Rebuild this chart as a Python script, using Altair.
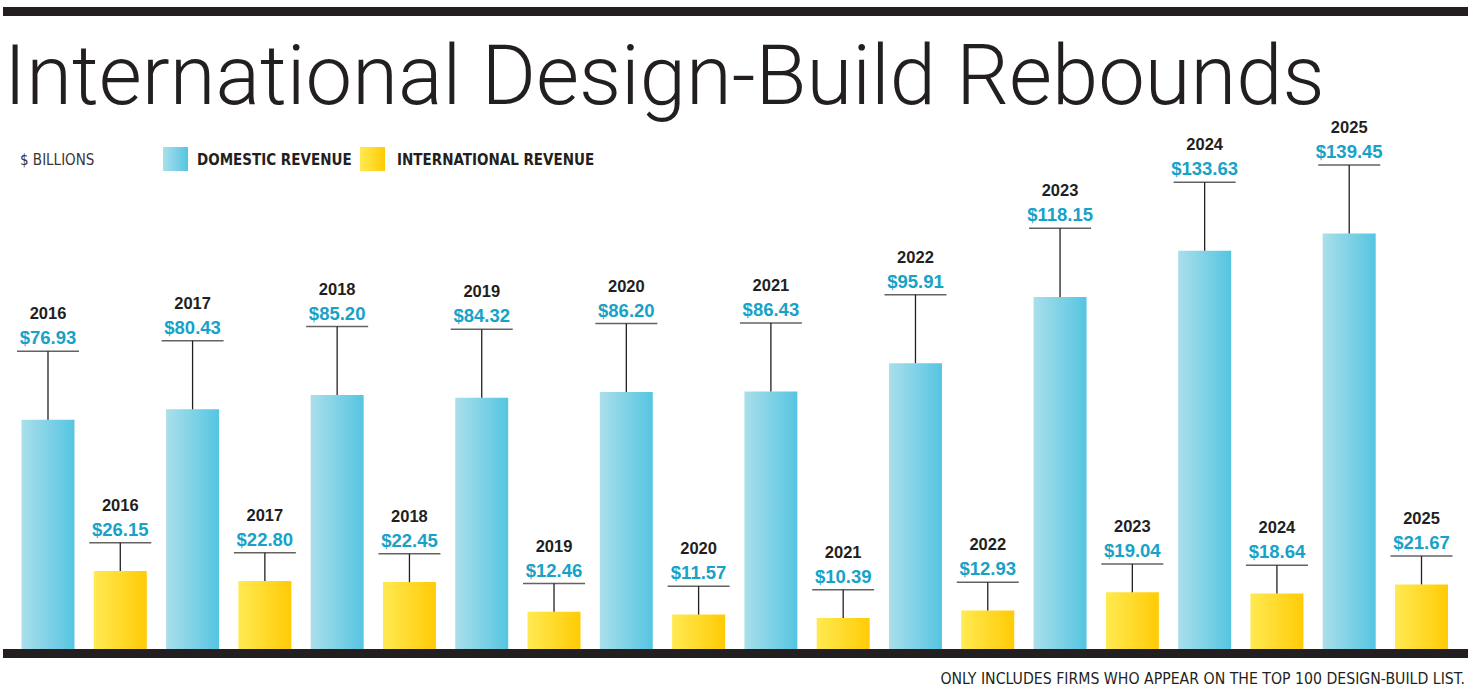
import altair as alt
import pandas as pd

# ---------------- data ----------------
years = [2016, 2017, 2018, 2019, 2020, 2021, 2022, 2023, 2024, 2025]
domestic = [76.93, 80.43, 85.20, 84.32, 86.20, 86.43, 95.91, 118.15, 133.63, 139.45]
international = [26.15, 22.80, 22.45, 12.46, 11.57, 10.39, 12.93, 19.04, 18.64, 21.67]
series_names = ["Domestic", "International"]

# ---------------- styling constants ----------------
COND = "DejaVu Sans Condensed, sans-serif"
LABELFONT = "Liberation Sans, Arial, sans-serif"
TITLEFONT = "Roboto, sans-serif"
DARK = "#231f20"
TEAL = "#17a2c8"
LEADER = {"Domestic": 23.0, "International": 9.5}  # label lift above bar, in $B

grad_dom = {"gradient": "linear", "x1": 0, "x2": 1, "y1": 0, "y2": 0,
            "stops": [{"offset": 0, "color": "#aadfeb"}, {"offset": 1, "color": "#55c5e1"}]}
grad_int = {"gradient": "linear", "x1": 0, "x2": 1, "y1": 0, "y2": 0,
            "stops": [{"offset": 0, "color": "#ffea52"}, {"offset": 1, "color": "#ffcb05"}]}

rows = []
for y, d, i in zip(years, domestic, international):
    for s, v in zip(series_names, (d, i)):
        rows.append({"slot": f"{y} {s}", "year": str(y), "series": s,
                     "value": v, "label": f"${v:.2f}"})
df = pd.DataFrame(rows)
df["level"] = df["value"] + df["series"].map(LEADER)
slot_order = list(df["slot"])

PX_PER_B = 2.98
BASE = 649
yscale = alt.Scale(domain=[0, BASE / PX_PER_B], range=[BASE, 0], nice=False, zero=False)
xenc = alt.X("slot:N", sort=slot_order,
             scale=alt.Scale(domain=slot_order, range=[21.5, 1448],
                             paddingInner=0.267, paddingOuter=0),
             axis=None)

base = alt.Chart(df)

bars_dom = base.transform_filter(alt.datum.series == "Domestic").mark_bar(
    fill=grad_dom, cornerRadius=0).encode(
    x=xenc, y=alt.Y("value:Q", scale=yscale, axis=None))
bars_int = base.transform_filter(alt.datum.series == "International").mark_bar(
    fill=grad_int, cornerRadius=0).encode(
    x=xenc, y=alt.Y("value:Q", scale=yscale, axis=None))

leaders = base.mark_rule(color=DARK, strokeWidth=1.3).encode(
    x=xenc, y=alt.Y("value:Q", scale=yscale, axis=None), y2="level:Q")
underline = base.mark_tick(orient="horizontal", color=DARK, thickness=1.5, size=62).encode(
    x=xenc, y=alt.Y("level:Q", scale=yscale, axis=None))
value_txt = base.mark_text(font=LABELFONT, fontWeight="bold", fontSize=18.5, color=TEAL,
                           baseline="alphabetic", align="center", dy=-7).encode(
    x=xenc, y=alt.Y("level:Q", scale=yscale, axis=None), text="label:N")
year_txt = base.mark_text(font=LABELFONT, fontWeight="bold", fontSize=16.5, color=DARK,
                          baseline="alphabetic", align="center", dy=-32).encode(
    x=xenc, y=alt.Y("level:Q", scale=yscale, axis=None), text="year:N")

one = pd.DataFrame({"k": [0]})
deco = alt.Chart(one)

top_bar = deco.mark_rect(color=DARK).encode(
    x=alt.value(3), x2=alt.value(1468), y=alt.value(7), y2=alt.value(16))
bottom_bar = deco.mark_rect(color=DARK).encode(
    x=alt.value(3), x2=alt.value(1468), y=alt.value(649), y2=alt.value(658))

title = deco.mark_text(text="International Design-Build Rebounds", font=TITLEFONT,
                       fontWeight=300, fontSize=83.2, align="left", baseline="alphabetic",
                       color=DARK).encode(
    x=alt.value(4), y=alt.value(104))

units = deco.mark_text(text="$ BILLIONS", font=COND, fontSize=15, align="left",
                       baseline="alphabetic", color="#3a3536").encode(
    x=alt.value(20), y=alt.value(165))
sq_dom = deco.mark_rect(fill=grad_dom).encode(
    x=alt.value(163), x2=alt.value(188), y=alt.value(147), y2=alt.value(171))
lg_dom = deco.mark_text(text="DOMESTIC REVENUE", font=COND, fontWeight="bold", fontSize=15,
                        align="left", baseline="alphabetic", color=DARK).encode(
    x=alt.value(197), y=alt.value(165))
sq_int = deco.mark_rect(fill=grad_int).encode(
    x=alt.value(360), x2=alt.value(385), y=alt.value(147), y2=alt.value(171))
lg_int = deco.mark_text(text="INTERNATIONAL REVENUE", font=COND, fontWeight="bold", fontSize=15,
                        align="left", baseline="alphabetic", color=DARK).encode(
    x=alt.value(397), y=alt.value(165))

footnote = deco.mark_text(text="ONLY INCLUDES FIRMS WHO APPEAR ON THE TOP 100 DESIGN-BUILD LIST.",
                          font=COND, fontSize=15.7, align="right", baseline="alphabetic",
                          color=DARK).encode(x=alt.value(1465), y=alt.value(684))

chart = alt.layer(
    bars_dom, bars_int, leaders, underline, value_txt, year_txt,
    top_bar, bottom_bar, title, units, sq_dom, lg_dom, sq_int, lg_int, footnote
).properties(
    width=1468, height=690,
    autosize=alt.AutoSizeParams(type="none"),
    padding=0,
    background="white",
).configure_view(stroke=None)

chart.save("out.html", embed_options={"renderer": "svg", "actions": False})
